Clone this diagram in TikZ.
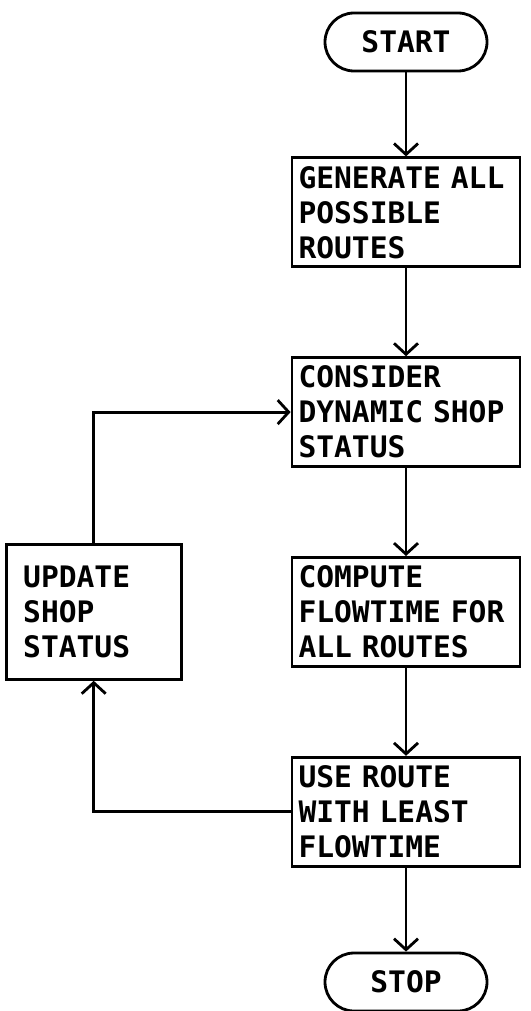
\documentclass[tikz,border=0pt]{standalone}
\usepackage{fontspec}
\setmonofont{DejaVu Sans Mono}
\usepackage{tikz}
\usetikzlibrary{arrows.meta,positioning}
\newcommand\flowfont{\ttfamily\bfseries\fontsize{14.8}{17.5}\selectfont
  \fontdimen2\font=0.602em\relax}

\begin{document}
\begin{tikzpicture}[node distance=44pt,line width=1.4pt,font=\flowfont,
  proc/.style={draw,minimum width=114pt,minimum height=54.5pt,
      text width=107.5pt,inner xsep=3.25pt,inner ysep=1pt,align=left},
  term/.style={draw,rounded corners=14.5pt,minimum width=81pt,minimum height=29pt},
  flow/.style={-{Straight Barb[length=5.5pt,width=12pt]}}]
\useasboundingbox (0,0) rectangle (265pt,-505.5pt);
\node[term] (start) at (203pt,-21pt) {START};
\node[proc,below=42pt of start] (gen) {GENERATE~ALL\\POSSIBLE\\ROUTES};
\node[proc,below=of gen] (cons) {CONSIDER\\DYNAMIC~SHOP\\STATUS};
\node[proc,below=of cons] (comp) {COMPUTE\\FLOWTIME~FOR\\ALL~ROUTES};
\node[proc,below=of comp] (use) {USE~ROUTE\\WITH~LEAST\\FLOWTIME};
\node[term,below=42pt of use] (stop) {STOP};
\node[proc,text width=70.5pt,inner xsep=8.5pt,minimum width=87.5pt,
      minimum height=67.5pt,left=54pt of comp] (upd) {UPDATE\\SHOP\\STATUS};
\draw[flow] (start) -- (gen);
\draw[flow] (gen) -- (cons);
\draw[flow] (cons) -- (comp);
\draw[flow] (comp) -- (use);
\draw[flow] (use) -- (stop);
\draw[flow] (use.west) -| (upd.south);
\draw[flow] (upd.north) |- (cons.west);
\end{tikzpicture}
\end{document}
